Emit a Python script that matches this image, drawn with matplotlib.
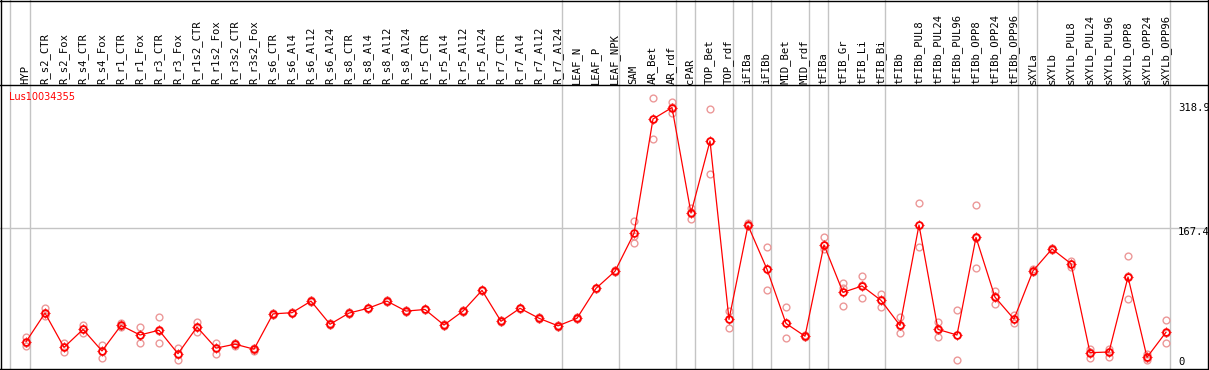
import matplotlib
matplotlib.use("Agg")
import matplotlib.pyplot as plt
from matplotlib.path import Path
from matplotlib.markers import MarkerStyle
from matplotlib.lines import Line2D

# ---------------- data ----------------
gene = "Lus10034355"
categories = ["HYP", "R_s2_CTR", "R_s2_Fox", "R_s4_CTR", "R_s4_Fox", "R_r1_CTR", "R_r1_Fox",
              "R_r3_CTR", "R_r3_Fox", "R_r1s2_CTR", "R_r1s2_Fox", "R_r3s2_CTR", "R_r3s2_Fox",
              "R_s6_CTR", "R_s6_Al4", "R_s6_Al12", "R_s6_Al24", "R_s8_CTR", "R_s8_Al4",
              "R_s8_Al12", "R_s8_Al24", "R_r5_CTR", "R_r5_Al4", "R_r5_Al12", "R_r5_Al24",
              "R_r7_CTR", "R_r7_Al4", "R_r7_Al12", "R_r7_Al24", "LEAF_N", "LEAF_P", "LEAF_NPK",
              "SAM", "AR_Bet", "AR_rdf", "cPAR", "TOP_Bet", "TOP_rdf", "iFIBa", "iFIBb",
              "MID_Bet", "MID_rdf", "tFIBa", "tFIB_Gr", "tFIB_Li", "tFIB_Bi", "tFIBb",
              "tFIBb_PUL8", "tFIBb_PUL24", "tFIBb_PUL96", "tFIBb_OPP8", "tFIBb_OPP24",
              "tFIBb_OPP96", "sXYLa", "sXYLb", "sXYLb_PUL8", "sXYLb_PUL24", "sXYLb_PUL96",
              "sXYLb_OPP8", "sXYLb_OPP24", "sXYLb_OPP96"]

means = [25, 61, 18, 40.5, 13.5, 45.5, 33.5, 39.5, 10, 43.5, 17, 22, 15.7,
         60, 61.5, 76, 47, 61, 67, 76, 63.5, 65.5, 46, 63.5, 89.5,
         50.7, 67, 54.5, 45, 54.5, 92, 113.5,
         161, 304.5, 318.9, 186.5, 277, 53, 171, 116,
         48, 32, 146.5, 87, 95, 77, 45.5,
         171.5, 40.5, 33.5, 156, 81, 53.5,
         114, 141.5, 123, 11.3, 12.2, 106.3, 5.5, 37]

replicates = [[31, 24, 20], [67, 61, 57], [24, 18, 12.5], [46, 41, 36], [21, 14, 4.6],
              [48, 45, 43], [43, 33, 24], [56, 39, 23], [17.6, 10, 2], [50, 43, 37],
              [24, 17, 9.3], [24, 22, 20], [17, 15.7, 14],
              [61, 59], [62.5, 60.5], [77, 75], [48, 46], [62, 60], [68, 66], [77, 75],
              [64.5, 62.5], [66.5, 64.5], [47, 45], [64.5, 62.5], [90.5, 88.5],
              [51.7, 49.7], [68, 66], [55.5, 53.5], [46, 44], [55.5, 53.5], [93, 91],
              [114.5, 112.5],
              [177, 158, 149], [330.5, 304, 279], [325.5, 319, 311.7], [193, 188, 179],
              [316.7, 277, 235], [63.6, 53, 42], [174, 172, 170], [143.5, 116, 90],
              [68.3, 48, 29.4], [33, 32, 31], [156, 146, 141], [98.4, 93, 70],
              [107.5, 96, 79.5], [85, 77, 69], [56.5, 45, 35.6],
              [198.7, 171, 144.3], [50.2, 40, 31.4], [64.5, 34, 2.1], [196.2, 155, 117.2],
              [88.7, 82, 72], [58.6, 54, 48.2],
              [116, 114, 112], [143, 141.5, 140], [126.6, 123, 119], [15.9, 12, 4.2],
              [15.9, 12, 6.3], [133, 107, 78.7], [9.7, 5, 2.1], [51.9, 36, 23.1]]

group_ends = ["HYP", "R_r7_Al24", "LEAF_NPK", "AR_rdf", "cPAR", "TOP_rdf", "iFIBa", "iFIBb",
              "MID_rdf", "tFIBa", "tFIB_Bi", "tFIBb_OPP96", "sXYLa", "sXYLb_OPP96"]

y_max_label = 318.9
y_mid_label = 167.4

# ---------------- figure ----------------
W, H = 1209, 370
fig = plt.figure(figsize=(W / 100, H / 100), dpi=100)
fig.patch.set_facecolor("white")
ax = fig.add_axes([0, 0, 1, 1])
ax.set_axis_off()

# pixel mapping: column i at x = 26 + 19 i ; value v at y(from top) = 361.7 - 0.797 v
x0, dx = 26.0, 19.0
ax.set_xlim((0 - x0) / dx, (W - x0) / dx)
y_top0, sy = 361.7, 0.797
ax.set_ylim(-(H - y_top0) / sy, y_top0 / sy)

xs = list(range(len(categories)))
grey = "#c4c4c4"

# vertical separators
sep_off = 0.23
ax.axvline(-1 + 0.174, color=grey, lw=1.0, zorder=1)
for name in group_ends:
    ax.axvline(categories.index(name) + sep_off, color=grey, lw=1.0, zorder=1)

# horizontal gridline
ax.axhline(y_mid_label, color=grey, lw=1.0, zorder=1)

# header separator (black) at pixel 85
hdr_frac = (H - 85) / H
fig.add_artist(Line2D([0, 1], [hdr_frac, hdr_frac], transform=fig.transFigure,
                      color="black", lw=1.0))
# borders
for (xa, ya) in [([0, 1], [1 - 0.5 / H, 1 - 0.5 / H]), ([0, 1], [1.0 / H, 1.0 / H]),
                 ([0.5 / W, 0.5 / W], [0, 1]), ([1 - 1.0 / W, 1 - 1.0 / W], [0, 1])]:
    fig.add_artist(Line2D(xa, ya, transform=fig.transFigure, color="black", lw=1.0))

# header labels
lab_frac = (H - 83.5) / H
trans_hdr = ax.get_xaxis_transform()
for i, name in enumerate(categories):
    ax.text(i - 0.03, lab_frac, name, rotation=90, ha="center", va="bottom",
            fontfamily="DejaVu Sans Mono", fontsize=7.6, color="black",
            transform=trans_hdr)

# gene label
ax.text(9.0 / W, (H - 97.5) / H, gene, transform=ax.transAxes, ha="left", va="center",
        fontsize=7, color="#ff0000", fontfamily="DejaVu Sans")

# y labels
lab_x = (1178 - x0) / dx
ax.text(lab_x, y_max_label, f"{y_max_label}", ha="left", va="center",
        fontfamily="DejaVu Sans Mono", fontsize=7.6, color="black")
ax.annotate(f"{y_mid_label}", (lab_x, y_mid_label), xytext=(0, -4),
            textcoords="offset pixels", ha="left", va="center",
            fontfamily="DejaVu Sans Mono", fontsize=7.6, color="black")
ax.text(lab_x, 0, "0", ha="left", va="center",
        fontfamily="DejaVu Sans Mono", fontsize=7.6, color="black")

# tick marker: four short stubs around the circle
verts, codes = [], []
for ddx, ddy in [(0, 1), (0, -1), (1, 0), (-1, 0)]:
    verts += [(ddx * 1.0, ddy * 1.0), (ddx * 1.25, ddy * 1.25)]
    codes += [Path.MOVETO, Path.LINETO]
tick_style = MarkerStyle(Path(verts, codes), fillstyle="none")

# replicate points
rx, ry = [], []
for i, reps in enumerate(replicates):
    for r in reps:
        rx.append(i)
        ry.append(r)
rep_col = "#ec9898"
ax.plot(rx, ry, linestyle="none", marker="o", markersize=4.9, markerfacecolor="none",
        markeredgecolor=rep_col, markeredgewidth=1.0, zorder=3)
ax.plot(rx, ry, linestyle="none", marker=tick_style, markersize=6.4,
        markeredgecolor=rep_col, markeredgewidth=0.7, zorder=3)

# mean line and markers
ax.plot(xs, means, color="#ff0000", lw=0.9, zorder=4)
ax.plot(xs, means, linestyle="none", marker="o", markersize=4.9, markerfacecolor="none",
        markeredgecolor="#ff0000", markeredgewidth=1.3, zorder=5)
ax.plot(xs, means, linestyle="none", marker=tick_style, markersize=6.6,
        markeredgecolor="#ff0000", markeredgewidth=0.8, zorder=5)

fig.savefig("out.png", dpi=100, facecolor="white")
